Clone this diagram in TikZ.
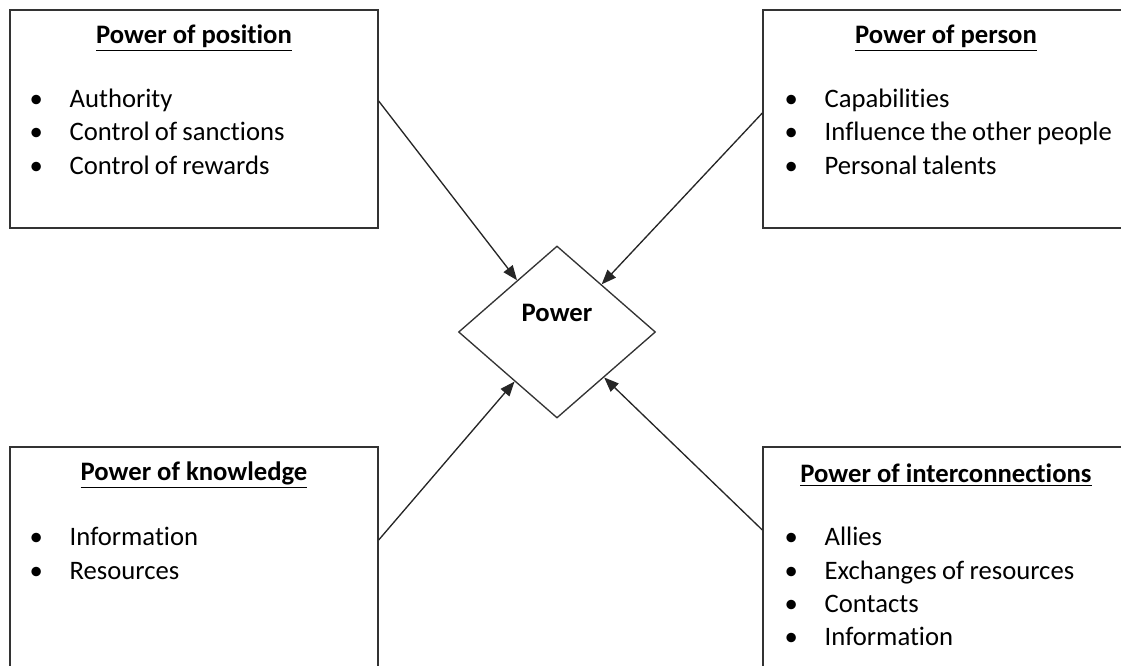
\documentclass[tikz,border=0pt]{standalone}
\usepackage{fontspec}
\setmainfont{Carlito}[Ligatures=NoCommon]
\usetikzlibrary{arrows.meta,positioning,shapes.geometric}
\newcommand{\bul}[1]{\makebox[30pt][l]{\textbullet}#1}
\tikzset{x=0.75pt,y=-0.75pt,node distance=25pt,on grid,
  box/.style={draw=black!80,line width=1pt,minimum width=276pt,minimum height=163.5pt,inner sep=0pt},
  head/.style={font=\fontsize{20}{24}\selectfont\bfseries,inner sep=0pt},
  item/.style={font=\fontsize{20}{24}\selectfont,text width=260pt,align=left,inner sep=0pt,
    text height=14pt,text depth=4pt,execute at begin node={\spaceskip=0.2em\relax}},
  link/.style={-{Triangle[length=11pt,width=8.5pt]},draw=black!85,line width=1pt}}

\begin{document}
\begin{tikzpicture}
              \clip (0,0) rectangle (1121,666);

              \node[box] (pos) at (194,119) {};
              \node[head] (postitle) at (194,38) {\underline{Power of position}};
              \node[item] (pos1) at (203,101) {\bul{Authority}};
              \node[item,below=of pos1] (pos2) {\bul{Control of sanctions}};
              \node[item,below=of pos2] (pos3) {\bul{Control of rewards}};

              \node[box] (per) at (947,119) {};
              \node[head] (pertitle) at (946,38) {\underline{Power of person}};
              \node[item] (per1) at (958,101) {\bul{Capabilities}};
              \node[item,below=of per1] (per2) {\bul{Influence the other people}};
              \node[item,below=of per2] (per3) {\bul{Personal talents}};

              \node[box,minimum height=171pt] (kno) at (194,561) {};
              \node[head] (knotitle) at (194,475) {\underline{Power of knowledge}};
              \node[item] (kno1) at (203,539) {\bul{Information}};
              \node[item,below=of kno1] (kno2) {\bul{Resources}};

              \node[box,minimum height=171pt] (int) at (947,561) {};
              \node[head] (inttitle) at (946,475) {\underline{Power of interconnections}};
              \node[item] (int1) at (958,539) {\bul{Allies}};
              \node[item,below=of int1] (int2) {\bul{Exchanges of resources}};
              \node[item,below=of int2] (int3) {\bul{Contacts}};
              \node[item,below=of int3] (int4) {\bul{Information}};

              \node[diamond,draw=black!80,line width=1pt,inner sep=0pt,
                minimum width=147.75pt,minimum height=129pt] (power) at (557,332) {};
              \node[head] (powertitle) at (557,313) {Power};

              \draw[link] (pos.east |- pos1) -- (power);
              \draw[link] ([yshift=4.5pt]per.west) -- (power);
              \draw[link] ([yshift=15.75pt]kno.east) -- (power);
              \draw[link] ([yshift=23.25pt]int.west) -- (power);
            \end{tikzpicture}
\end{document}
